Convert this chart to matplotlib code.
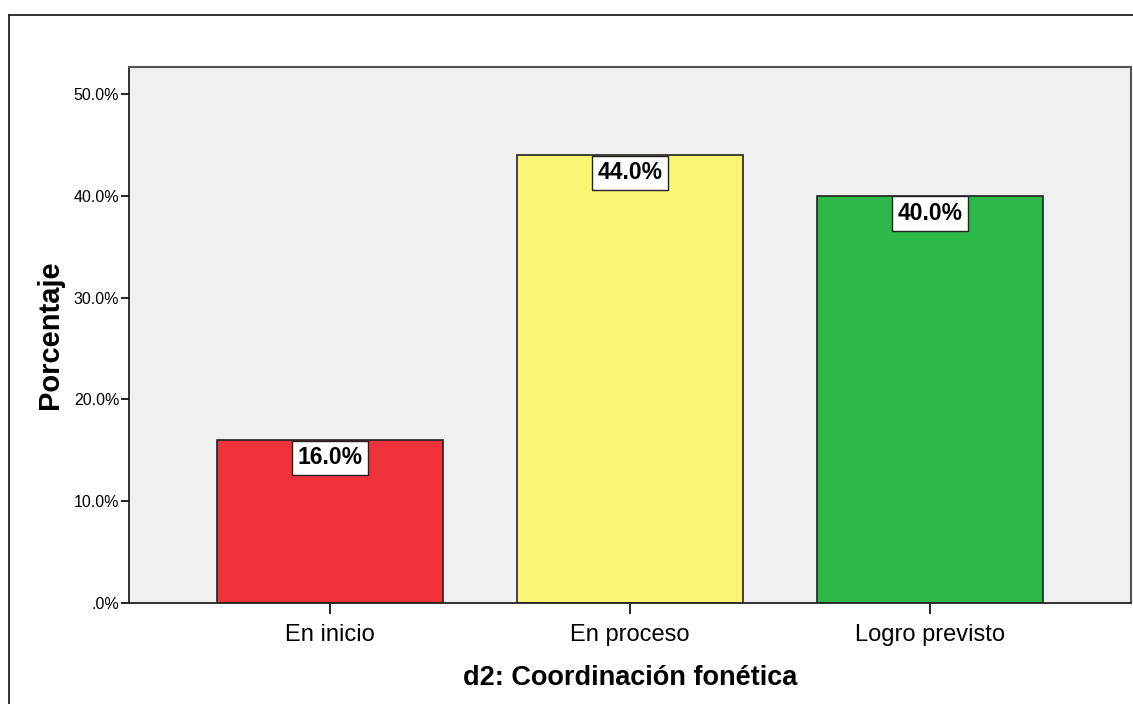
import matplotlib

matplotlib.use("Agg")
import matplotlib.pyplot as plt
from matplotlib.lines import Line2D
from matplotlib.ticker import FuncFormatter

CATEGORIES = ["En inicio", "En proceso", "Logro previsto"]
PERCENTS = [16.0, 44.0, 40.0]
COLORS = ["#F0323A", "#FAF675", "#2EB84A"]
YTICKS = [0, 10, 20, 30, 40, 50]

plt.rcParams["font.family"] = ["Liberation Sans Narrow", "Liberation Sans", "DejaVu Sans"]

fig = plt.figure(figsize=(11.33, 7.04), dpi=100)
ax = fig.add_axes([129 / 1133, 1 - 603 / 704, 1002 / 1133, 536 / 704])
ax.set_facecolor("#F0F0F0")

x = list(range(len(CATEGORIES)))
ax.bar(x, PERCENTS, width=0.753, color=COLORS, edgecolor="#222222", linewidth=1.2, zorder=2)
for xi, v in zip(x, PERCENTS):
    ax.annotate(f"{v:.1f}%", (xi, v), xytext=(0, -4.5), textcoords="offset points",
                ha="center", va="top", fontsize=16.5, fontweight="bold",
                bbox=dict(boxstyle="square,pad=0.25", fc="white", ec="#222222", lw=1),
                zorder=3)

ax.set_xlim(-0.67, 2.67)
ax.set_ylim(0, 52.65)
ax.set_yticks(YTICKS)
ax.yaxis.set_major_formatter(FuncFormatter(lambda v, _: ".0%" if v == 0 else f"{v:.1f}%"))
ax.set_xticks(x)
ax.set_xticklabels(CATEGORIES, fontsize=17)
ax.tick_params(axis="y", labelsize=11.5, length=6, width=1.2, pad=1)
ax.tick_params(axis="x", length=8, width=1.2, pad=7)
for side in ["left", "bottom"]:
    ax.spines[side].set_color("#222222")
    ax.spines[side].set_linewidth(1.3)
for side in ["top", "right"]:
    ax.spines[side].set_color("#555555")
    ax.spines[side].set_linewidth(1.5)

ax.set_ylabel("Porcentaje", fontsize=21, fontweight="bold", labelpad=7)
ax.set_xlabel("d2: Coordinación fonética", fontsize=19.5, fontweight="bold", labelpad=14)

# outer frame (top and left edges)
fig.add_artist(Line2D([9 / 1133, 1], [1 - 15 / 704, 1 - 15 / 704], color="#222222", lw=1.3,
                      transform=fig.transFigure))
fig.add_artist(Line2D([9 / 1133, 9 / 1133], [0, 1 - 15 / 704], color="#222222", lw=1.3,
                      transform=fig.transFigure))

fig.savefig("out.png", dpi=100)
